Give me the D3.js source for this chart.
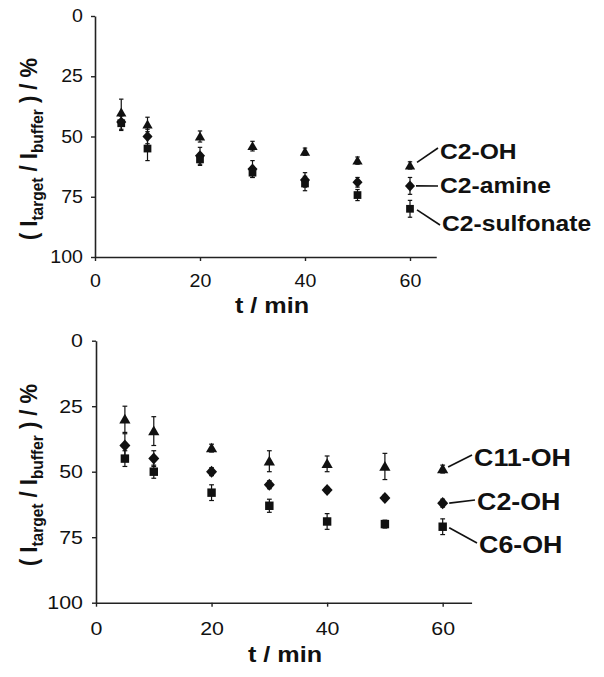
<!DOCTYPE html>
<html><head><meta charset="utf-8">
<script src="https://cdn.jsdelivr.net/npm/d3@7"></script>
<style>html,body{margin:0;padding:0;background:#fff;}svg{display:block;font-family:"Liberation Sans",Arial,sans-serif;}</style>
</head><body>
<svg id="c" width="604" height="677"></svg>
<script>
// ---- data ----
const time = [5, 10, 20, 30, 40, 50, 60];
const xTicks = [0, 20, 40, 60];
const yTicks = [0, 25, 50, 75, 100];

// top panel
const topNames = ["C2-OH", "C2-amine", "C2-sulfonate"];
const topC2OH = [40, 45, 50, 54, 56.3, 60, 62];
const topC2OHErr = [5.5, 3, 2.3, 2, 1.5, 1.5, 1.5];
const topC2amine = [44, 50, 58, 63.5, 68, 69, 70.5];
const topC2amineErr = [3, 3, 3.5, 3.5, 3, 2, 3.5];
const topC2sulfonate = [44.5, 55, 59.5, 65, 69.5, 74.3, 80];
const topC2sulfonateErr = [3, 5, 2.5, 2, 3, 2.3, 3.5];

// bottom panel
const botNames = ["C11-OH", "C2-OH", "C6-OH"];
const botC11OH = [30, 34.5, 41, 46, 47, 48, 49];
const botC11OHErr = [5, 5.5, 1.5, 4, 3, 5, 1.5];
const botC2OH = [40, 45, 50, 55, 57, 60, 62];
const botC2OHErr = [4.5, 3, 1.5, 1.5, 1, 1, 1.5];
const botC6OH = [45, 50, 58, 63, 69, 70, 71];
const botC6OHErr = [3, 2.5, 3, 2.5, 3, 1.5, 3];

const svg = d3.select("#c");
const SX = 1.12; // horizontal stretch of text in reference

const diamond = {
  draw(ctx, size) {
    const w = Math.sqrt(size) * 0.62, h = Math.sqrt(size) * 0.68;
    ctx.moveTo(0, -h); ctx.lineTo(w, 0); ctx.lineTo(0, h); ctx.lineTo(-w, 0); ctx.closePath();
  }
};

function drawPanel(cfg) {
  const k = cfg.k;
  const x = d3.scaleLinear().domain([0, 65]).range(cfg.xr);
  const y = d3.scaleLinear().domain([0, 100]).range(cfg.yr);
  const g = svg.append("g");

  const yAxis = d3.axisLeft(y).tickValues(yTicks).tickSize(4).tickSizeOuter(0).tickPadding(9 * k);
  const ya = g.append("g").attr("transform", `translate(${x(0)},0)`).call(yAxis);
  const xAxis = d3.axisBottom(x).tickValues(xTicks).tickSize(4).tickSizeOuter(0).tickPadding(cfg.xpad);
  const xa = g.append("g").attr("transform", `translate(0,${y(100)})`).call(xAxis);
  [ya, xa].forEach(a => {
    a.select(".domain").attr("stroke", "#222").attr("stroke-width", 1.6);
    a.selectAll(".tick line").attr("stroke", "#222").attr("stroke-width", 1.4);
    a.selectAll(".tick text").attr("fill", "#111").attr("font-size", 17.5 * k)
      .attr("font-family", "Liberation Sans, Arial, sans-serif");
  });
  ya.selectAll(".tick text").attr("transform", `scale(${SX},1)`).attr("x", -12 * k / SX);
  xa.selectAll(".tick text").attr("transform", `scale(${SX},1)`);

  // axis titles
  g.append("text").attr("transform", `translate(${cfg.xtitle[0]},${cfg.xtitle[1]}) scale(${SX},1)`)
    .attr("text-anchor", "middle").attr("font-weight", "bold").attr("font-size", 22.5)
    .attr("fill", "#111").text("t / min");

  const yt = g.append("text")
    .attr("transform", `translate(${cfg.ytitle[0]},${cfg.ytitle[1]}) scale(${SX},1) rotate(-90)`)
    .attr("text-anchor", "middle").attr("font-weight", "bold").attr("font-size", 22).attr("fill", "#111");
  yt.append("tspan").text("( I");
  yt.append("tspan").attr("font-size", 15.5).attr("dy", 5).text("target");
  yt.append("tspan").attr("dy", -5).text(" / I");
  yt.append("tspan").attr("font-size", 15.5).attr("dy", 5).text("buffer");
  yt.append("tspan").attr("dy", -5).text(" ) / %");

  // series
  const cap = 2.2 * k;
  cfg.series.forEach(s => {
    const sg = g.append("g");
    const pts = time.map((t, i) => ({ t, v: s.vals[i], e: s.err[i] }));
    const eb = sg.selectAll("g.eb").data(pts).join("g").attr("stroke", "#111").attr("stroke-width", 1.2);
    eb.append("line").attr("x1", d => x(d.t)).attr("x2", d => x(d.t))
      .attr("y1", d => y(d.v - d.e)).attr("y2", d => y(d.v + d.e));
    eb.append("line").attr("x1", d => x(d.t) - cap).attr("x2", d => x(d.t) + cap)
      .attr("y1", d => y(d.v - d.e)).attr("y2", d => y(d.v - d.e));
    eb.append("line").attr("x1", d => x(d.t) - cap).attr("x2", d => x(d.t) + cap)
      .attr("y1", d => y(d.v + d.e)).attr("y2", d => y(d.v + d.e));
    sg.selectAll("path.m").data(pts).join("path")
      .attr("transform", d => `translate(${x(d.t)},${y(d.v) + (s.shape === "tri" ? 1 : 0)})`)
      .attr("d", d3.symbol().type(s.shape === "tri" ? d3.symbolTriangle : s.shape === "sq" ? d3.symbolSquare : diamond)
        .size(s.shape === "tri" ? 46 * k * k : s.shape === "sq" ? 60 * k * k : 66 * k * k))
      .attr("fill", "#111");

    // label + leader
    const last = pts[pts.length - 1];
    const lx = x(last.t) + s.lead[0] * k, ly = y(last.v) + s.lead[1];
    g.append("line").attr("x1", lx).attr("y1", ly).attr("x2", s.label[0] - 2).attr("y2", s.label[2])
      .attr("stroke", "#111").attr("stroke-width", 1.6);
    g.append("text").attr("transform", `translate(${s.label[0]},${s.label[1]}) scale(${SX},1)`)
      .attr("font-weight", "bold").attr("font-size", 22 * k).attr("fill", "#111").text(s.name);
  });
}

drawPanel({
  k: 1, xr: [95, 95 + 65 * 5.25], yr: [16, 257], xpad: 14,
  xtitle: [272, 313], ytitle: [37, 149],
  series: [
    { name: topNames[0], vals: topC2OH, err: topC2OHErr, shape: "tri", lead: [7, -3], label: [440, 159, 148] },
    { name: topNames[1], vals: topC2amine, err: topC2amineErr, shape: "dia", lead: [6, 0], label: [440, 193, 186] },
    { name: topNames[2], vals: topC2sulfonate, err: topC2sulfonateErr, shape: "sq", lead: [7, 1], label: [442, 231, 225] }
  ]
});

drawPanel({
  k: 1.09, xr: [96, 96 + 65 * 5.778], yr: [340.7, 602.7], xpad: 15,
  xtitle: [285, 662], ytitle: [37, 475],
  series: [
    { name: botNames[0], vals: botC11OH, err: botC11OHErr, shape: "tri", lead: [5, -2], label: [474, 466, 455] },
    { name: botNames[1], vals: botC2OH, err: botC2OHErr, shape: "dia", lead: [6, 0], label: [477, 510, 500] },
    { name: botNames[2], vals: botC6OH, err: botC6OHErr, shape: "sq", lead: [6, 1], label: [479, 552.5, 543] }
  ]
});
</script>
</body></html>
